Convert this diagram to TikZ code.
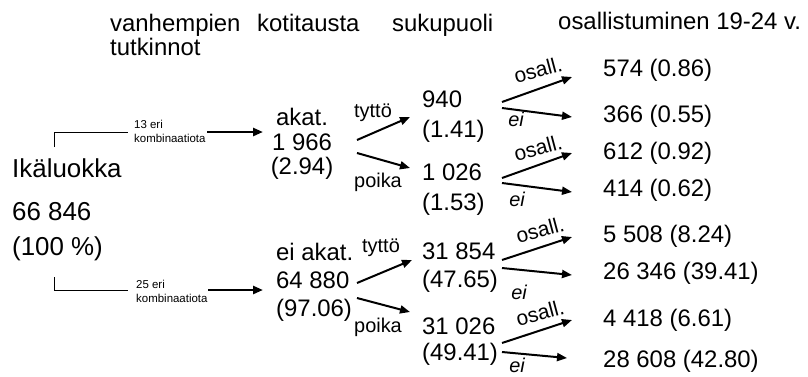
\documentclass[tikz,border=0pt]{standalone}
\usepackage{fontspec}
\setmainfont{Liberation Sans}
\usetikzlibrary{arrows.meta,calc}
\begin{document}
\begin{tikzpicture}[x=1bp,y=-1bp,
  hdr/.style={font=\fontsize{24}{28}\selectfont, inner sep=0pt, anchor=base west},
  dat/.style={font=\fontsize{24}{#1}\selectfont, inner sep=0pt, anchor=west, align=left},
  dat/.default=28,
  lbl/.style={font=\fontsize{20}{24}\selectfont, inner sep=0pt},
  osl/.style={font=\fontsize{21}{24}\selectfont, inner sep=0pt, rotate=15},
  eil/.style={font=\fontsize{20}{24}\selectfont\itshape, inner sep=0pt},
  sml/.style={font=\fontsize{11.5}{14}\selectfont, inner sep=0pt, anchor=west, align=left},
  arr/.style={line width=2bp, -{Triangle[length=10bp,width=8bp]}},
  arrb/.style={line width=2.6bp, -{Triangle[length=10bp,width=8bp]}},
  brk/.style={line width=0.9bp}]
\path[use as bounding box] (0,0) rectangle (808,376);
% headers
\node[hdr] (h1) at (110,31) {vanhempien};
\node[hdr] (h2) at (257,31) {kotitausta};
\node[hdr] (h3) at (392,31) {sukupuoli};
\node[hdr] (h4) at (110,55) {tutkinnot};
\node[hdr] (h5) at (558,29) {osallistuminen 19-24 v.};
% root
\node[font=\fontsize{26}{30}\selectfont, inner sep=0pt, anchor=west] (ika) at (12,168) {Ikäluokka};
\node[font=\fontsize{26}{35}\selectfont, inner sep=0pt, anchor=west, align=left] (tot) at (12,232) {66 846\\(100 \%)};
% brackets
\coordinate (bt) at (54,147);
\coordinate (bb) at (54,277);
\draw[brk] (bt) -- (54,132) -- (128,132);
\draw[brk] (bb) -- (54,290) -- (128,290);
\node[sml] (k1) at (134,131) {13 eri\\kombinaatiota};
\node[sml] (k2) at (136,291) {25 eri\\kombinaatiota};
% level 2
\node[dat=24.5, anchor=center, align=center] (akat) at (302,144) {akat.\\1 966\\(2.94)};
\node[dat=28] (eiakat) at (276,282) {ei akat.\\64 880\\(97.06)};
\draw[arrb] ($(k1.west)+(73,1)$) -- ($(akat.center)+(-39,-12)$);
\draw[arrb] ($(k2.west)+(72,-1)$) -- ($(eiakat.west)+(-13,8)$);
% level 3
\node[dat=30] (n1) at (422,117) {940\\(1.41)};
\node[dat=30] (n2) at (422,190) {1 026\\(1.53)};
\node[dat=28] (n3) at (422,268) {31 854\\(47.65)};
\node[dat=26] (n4) at (422,342) {31 026\\(49.41)};
\draw[arr] ($(akat.center)+(55,-4)$) -- ($(n1.west)+(-12,0)$);
\draw[arr] ($(akat.center)+(55,9)$) -- ($(n2.west)+(-12,-22)$);
\draw[arr] ($(eiakat.west)+(81,1)$) -- ($(n3.west)+(-10,-8)$);
\draw[arr] ($(eiakat.west)+(81,16)$) -- ($(n4.west)+(-12,-30)$);
\node[lbl] (t1) at (373,113) {tyttö};
\node[lbl] (p1) at (378,182) {poika};
\node[lbl] (t2) at (381,248) {tyttö};
\node[lbl] (p2) at (378,327) {poika};
% level 4
\node[dat] (r1) at (603,70) {574 (0.86)};
\node[dat] (r2) at (603,116) {366 (0.55)};
\node[dat] (r3) at (603,153) {612 (0.92)};
\node[dat] (r4) at (603,190) {414 (0.62)};
\node[dat] (r5) at (603,236) {5 508 (8.24)};
\node[dat] (r6) at (603,273) {26 346 (39.41)};
\node[dat] (r7) at (603,320) {4 418 (6.61)};
\node[dat] (r8) at (603,361) {28 608 (42.80)};
\draw[arr] ($(n1.west)+(80,-15)$) -- ($(r1.west)+(-31,7)$);
\draw[arr] ($(n1.west)+(80,-9)$) -- ($(r2.west)+(-31,1)$);
\draw[arr] ($(n2.west)+(80,-12)$) -- ($(r3.west)+(-31,0)$);
\draw[arr] ($(n2.west)+(80,-7)$) -- ($(r4.west)+(-31,2)$);
\draw[arr] ($(n3.west)+(80,-8)$) -- ($(r5.west)+(-31,1)$);
\draw[arr] ($(n3.west)+(80,0)$) -- ($(r6.west)+(-31,2)$);
\draw[arr] ($(n4.west)+(80,1)$) -- ($(r7.west)+(-31,0)$);
\draw[arr] ($(n4.west)+(80,10)$) -- ($(r8.west)+(-36,-3)$);
\node[osl] (o1) at (538,70) {osall.};
\node[osl] (o2) at (538,148) {osall.};
\node[osl] (o3) at (540,230) {osall.};
\node[osl] (o4) at (540,313) {osall.};
\node[eil] (e1) at (516,119) {ei};
\node[eil] (e2) at (517,199) {ei};
\node[eil] (e3) at (519,292) {ei};
\node[eil] (e4) at (517,365) {ei};
\end{tikzpicture}
\end{document}
